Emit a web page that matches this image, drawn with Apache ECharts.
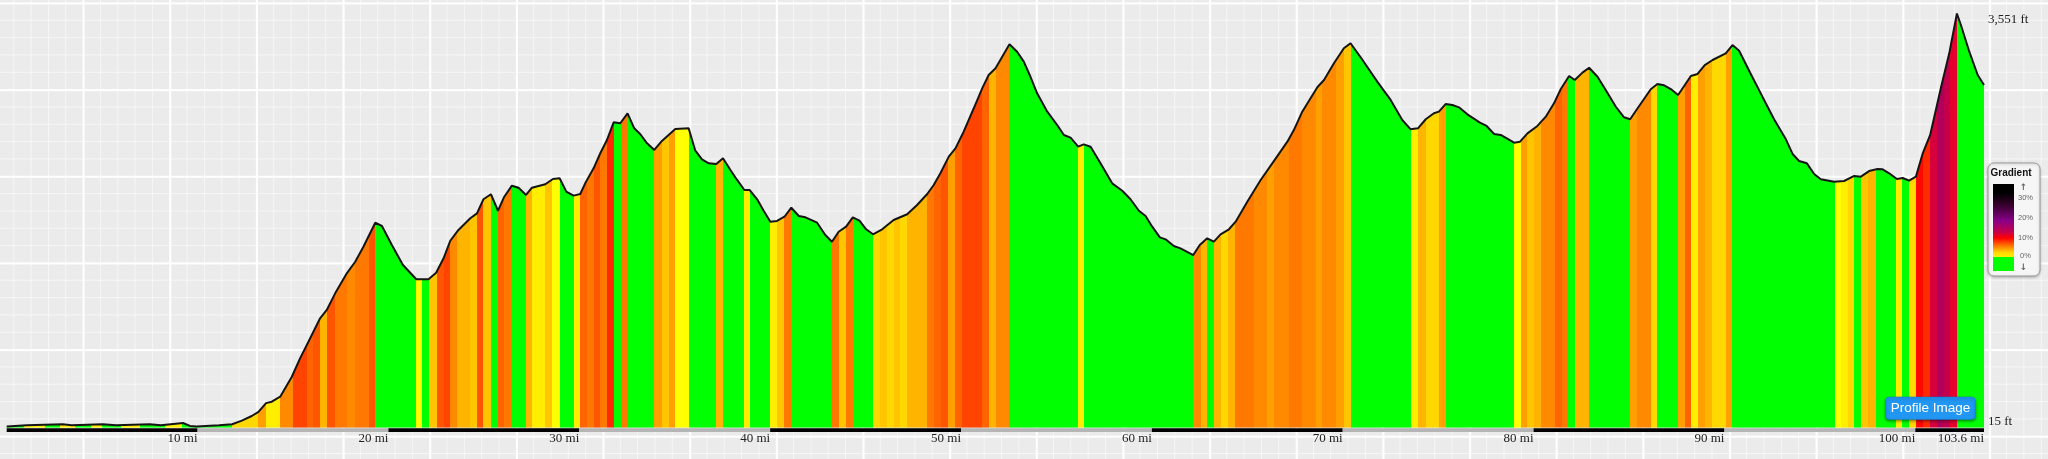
<!DOCTYPE html>
<html><head><meta charset="utf-8">
<script src="https://cdn.jsdelivr.net/npm/echarts@6/dist/echarts.min.js"></script>
<style>
html,body{margin:0;padding:0;width:2048px;height:459px;overflow:hidden;}
body{background-color:#ebebeb;
background-image:
 linear-gradient(to right, rgba(255,255,255,0.95) 2px, transparent 2px),
 linear-gradient(to bottom, rgba(255,255,255,0.95) 2px, transparent 2px),
 linear-gradient(to right, rgba(255,255,255,0.55) 1px, transparent 1px),
 linear-gradient(to bottom, rgba(255,255,255,0.55) 1px, transparent 1px);
background-size:86.667px 86.667px,86.667px 86.667px,17.333px 17.333px,17.333px 17.333px;
background-position:-4px 2.5px;}
#chart{width:2048px;height:459px;}
</style></head>
<body><div id="chart"></div>
<script>
// distance along route (mi)
const dist = [0,1.05,2.93,3.40,5.03,5.73,7.49,8.08,9.24,9.60,
9.94,11.12,11.81,12.32,12.84,13.19,13.59,13.89,14.33,14.94,
15.37,15.81,16.42,16.77,17.21,17.82,18.26,18.69,19.31,19.66,
20.18,20.76,21.46,22.10,22.50,22.89,23.24,23.67,24.29,24.64,
24.98,25.37,25.74,26.07,26.47,26.82,27.21,27.52,28.22,28.62,
28.97,29.32,29.70,30.05,30.31,30.75,31.10,31.45,31.80,32.15,
32.53,32.88,33.20,33.55,33.93,34.33,35.03,35.73,36.08,36.43,
36.78,37.18,37.53,37.92,38.27,38.65,38.93,39.32,39.66,40.01,
40.36,40.75,41.11,41.50,41.85,42.46,42.89,43.24,43.59,43.98,
44.33,44.68,45.03,45.39,45.87,46.47,47.18,47.70,48.23,48.57,
48.92,49.36,49.71,50.14,50.67,51.11,51.45,51.81,52.54,52.94,
53.29,53.64,53.99,54.52,55.04,55.39,55.74,56.14,56.43,56.79,
57.31,57.92,58.45,58.88,59.32,59.67,60.02,60.42,60.72,61.15,
61.50,62.17,62.51,62.90,63.25,63.60,64.04,64.39,65.00,65.70,
66.31,67.10,67.44,67.88,68.67,69.02,69.54,70.06,70.41,70.94,
71.81,72.51,73.12,73.56,73.94,74.35,74.78,75.04,75.39,75.75,
76.09,76.53,77.19,77.54,77.93,78.28,78.98,79.29,79.68,80.20,
80.64,81.07,81.42,81.86,82.16,82.56,82.91,83.35,83.78,84.31,
84.74,85.06,85.45,86.14,86.49,86.84,87.19,87.57,87.89,88.24,
88.59,88.97,89.38,90.07,90.42,90.77,91.38,91.99,92.60,93.22,
93.57,93.91,94.32,94.70,95.05,95.75,96.27,96.80,97.15,97.58,
98.02,98.29,98.63,99.04,99.34,99.68,100.03,100.38,100.78,101.34,
101.78,102.18,102.39,102.83,103.27,103.60];
// elevation (ft)
const elev = [25,35,45,35,45,35,45,35,55,30,
25,35,45,75,115,150,225,237,280,450,
607,749,949,1020,1162,1333,1432,1560,1765,1737,
1575,1404,1282,1282,1338,1461,1611,1703,1803,1845,
1965,2008,1867,1987,2081,2064,2002,2064,2093,2138,
2144,2030,1996,2010,2101,2229,2358,2471,2622,2614,
2699,2571,2520,2443,2386,2463,2565,2571,2380,2306,
2272,2266,2315,2215,2130,2044,2044,1965,1867,1774,
1780,1816,1893,1822,1811,1765,1660,1603,1688,1731,
1811,1782,1709,1666,1709,1788,1837,1916,2010,2087,
2187,2329,2400,2542,2742,2912,3026,3083,3288,3225,
3140,3011,2870,2713,2599,2514,2491,2414,2434,2414,
2272,2101,2038,1965,1867,1822,1731,1640,1623,1566,
1546,1489,1575,1632,1603,1666,1709,1774,1944,2130,
2272,2457,2556,2713,2921,2983,3126,3254,3297,3177,
2969,2813,2642,2562,2571,2648,2699,2713,2778,2770,
2750,2690,2619,2591,2522,2514,2448,2457,2528,2591,
2670,2784,2904,3017,2983,3046,3088,3011,2898,2755,
2665,2648,2742,2904,2949,2938,2906,2855,2932,3017,
3035,3111,3154,3211,3282,3233,3035,2841,2648,2477,
2352,2292,2272,2181,2136,2115,2121,2164,2158,2206,
2224,2221,2187,2138,2147,2124,2158,2352,2514,2915,
3211,3551,3453,3225,3026,2941];
// gradient bands: end mile of each band and its grade (%), -1 = downhill
const bandEnd = [0.9,2.0,2.8,3.6,4.4,5.0,6.0,7.0,8.3,9.2,10.4,11.81,
13.19,13.59,14.33,15.01,15.73,16.07,16.42,16.77,17.21,17.82,18.26,18.96,19.31,
21.46,21.75,22.15,22.54,22.89,23.24,23.59,24.29,24.64,24.98,25.37,25.74,26.07,26.47,
27.21,27.52,28.22,28.57,28.97,29.70,30.05,30.40,30.75,31.10,31.45,31.80,32.19,32.53,
33.93,34.33,34.68,35.03,35.73,37.18,37.53,38.62,38.93,40.01,40.36,40.75,41.11,
43.24,43.59,43.98,44.33,45.37,45.77,46.13,46.47,46.83,47.18,48.23,48.61,48.96,49.31,
49.71,50.06,51.11,51.45,51.81,52.54,56.14,56.43,62.17,62.56,62.90,63.25,63.60,63.98,
64.34,65.34,66.05,66.40,67.18,67.88,68.58,68.93,69.63,70.06,70.41,73.59,73.94,74.35,
75.04,75.39,78.98,79.33,79.68,80.03,80.41,81.11,81.48,81.83,82.16,82.91,85.06,85.41,
86.14,86.49,87.57,87.92,88.24,88.59,88.97,89.33,90.07,90.42,95.78,96.10,96.45,96.80,
97.18,97.53,97.93,98.98,99.28,99.68,100.03,100.40,100.77,101.14,101.49,101.84,102.19,103.6];
const bandGrade = [-1,1,-1,1,-1,1,-1,1,-1,1,-1,-1,
2,5,1,6,10,8,9,4,9,7,6,7,9,
-1,0,-1,3,9,10,6,4,3,9,3,-1,8,7,
-1,4,1,3,0,-1,1,8,7,9,7,11,-1,7,
-1,5,3,5,0,-1,4,-1,1,-1,1,3,7,
-1,7,3,7,-1,2,3,2,3,2,4,7,8,9,
5,8,10,8,4,6,-1,1,-1,6,4,-1,4,2,
4,7,6,5,6,7,6,5,6,5,3,-1,1,4,
2,5,-1,0,5,3,4,6,8,7,-1,4,-1,5,
6,2,-1,5,8,1,5,4,2,5,-1,0,1,2,
-1,3,4,-1,1,-1,2,12,11,14,16,15,13,-1];
// mile markers along the bottom bar
const mileTicks = [0,10,20,30,40,50,60,70,80,90,100,103.6];
const elevMin = 15, elevMax = 3551;

const palette = {'-1':'#00ff00',0:'#ffff00',1:'#ffee00',2:'#ffd800',3:'#ffc600',4:'#ffb400',
 5:'#ff9f00',6:'#ff8a00',7:'#ff7800',8:'#ff6400',9:'#ff5400',10:'#ff4400',11:'#ff2a00',
 12:'#ff0800',13:'#e6002e',14:'#d6003c',15:'#c4004c',16:'#b0005c'};
function gradeColor(g){ return palette[g < 0 ? '-1' : Math.min(16, Math.round(g))]; }

const profile = dist.map((d,i)=>[d, elev[i]]);
let prev = 0;
const pieces = bandEnd.map((e,i)=>{
  const p = {gte: prev, lt: e, color: gradeColor(bandGrade[i])};
  prev = e; return p;
});
pieces[pieces.length-1] = {gte: pieces[pieces.length-1].gte, lte: bandEnd[bandEnd.length-1], color: pieces[pieces.length-1].color};
const barSegs = [];
for (let i=0;i<mileTicks.length-1;i++) barSegs.push([mileTicks[i], mileTicks[i+1], elevMin, i%2]);

const chart = echarts.init(document.getElementById('chart'));
const serif = '"Liberation Serif","Times New Roman",serif';
const sans = '"Liberation Sans",Arial,Helvetica,sans-serif';
chart.setOption({
  animation:false,
  backgroundColor:'transparent',
  grid:{left:6.7, right:64, top:13.5, bottom:31.3, containLabel:false},
  xAxis:{type:'value', min:0, max:103.6, interval:10,
    axisLine:{show:false}, axisTick:{show:false}, splitLine:{show:false},
    axisLabel:{show:true, showMaxLabel:true, showMinLabel:true, align:'right', margin:4,
      fontFamily:serif, fontSize:13, color:'#222',
      formatter:v=> v===0 ? '' : (Math.round(v*10)/10)+' mi'}},
  yAxis:{type:'value', position:'right', min:elevMin, max:elevMax, interval:elevMax-elevMin,
    axisLine:{show:false}, axisTick:{show:false}, splitLine:{show:false},
    axisLabel:{margin:4, fontFamily:serif, fontSize:13, color:'#222',
      verticalAlignMinLabel:'bottom', verticalAlignMaxLabel:'top',
      formatter:v=> Math.round(v).toString().replace(/\B(?=(\d{3})+(?!\d))/g, ',')+' ft'}},
  visualMap:{type:'piecewise', show:false, dimension:0, seriesIndex:0, pieces:pieces,
    outOfRange:{color:'#00ff00'}},
  series:[
    {type:'line', data:profile, showSymbol:false, silent:true, z:2,
     lineStyle:{width:0}, areaStyle:{opacity:1}},
    {type:'line', data:profile, showSymbol:false, silent:true, z:3,
     lineStyle:{color:'#151515', width:2}, itemStyle:{color:'#151515'}},
    {type:'custom', data:barSegs, silent:true, z:4, encode:{x:[0,1], y:2},
     renderItem:function(params, api){
       const a = api.coord([api.value(0), api.value(2)]);
       const b = api.coord([api.value(1), api.value(2)]);
       return {type:'rect', shape:{x:a[0], y:a[1]+0.6, width:b[0]-a[0], height:3.6},
         style:{fill: api.value(3) ? '#b5b5b5' : '#000'}};
     }}
  ],
  graphic:[
    {type:'rect', z:100, shape:{x:1988, y:163, width:52, height:113, r:6},
     style:{fill:'#f6f6f6', stroke:'#9a9a9a', lineWidth:1, shadowBlur:3, shadowColor:'rgba(0,0,0,0.25)', shadowOffsetY:1}},
    {type:'text', z:101, x:1990.5, y:173.5, style:{text:'Gradient', font:'bold 10px '+sans, fill:'#111', verticalAlign:'middle'}},
    {type:'rect', z:101, shape:{x:1993, y:184, width:21, height:73},
     style:{fill:new echarts.graphic.LinearGradient(0,0,0,1,[
       {offset:0,color:'#000000'},{offset:0.12,color:'#000000'},{offset:0.3,color:'#3a0030'},
       {offset:0.5,color:'#880088'},{offset:0.66,color:'#c8004a'},{offset:0.74,color:'#ff0000'},
       {offset:0.84,color:'#ff7000'},{offset:0.94,color:'#ffd800'},{offset:1,color:'#ffee00'}])}},
    {type:'rect', z:101, shape:{x:1993, y:257, width:21, height:14}, style:{fill:'#00ff00'}},
    {type:'text', z:101, x:2025.5, y:198, style:{text:'30%', font:'7.5px '+sans, fill:'#666', align:'center', verticalAlign:'middle'}},
    {type:'text', z:101, x:2025.5, y:218, style:{text:'20%', font:'7.5px '+sans, fill:'#666', align:'center', verticalAlign:'middle'}},
    {type:'text', z:101, x:2025.5, y:237.5, style:{text:'10%', font:'7.5px '+sans, fill:'#666', align:'center', verticalAlign:'middle'}},
    {type:'text', z:101, x:2025.5, y:256, style:{text:'0%', font:'7.5px '+sans, fill:'#666', align:'center', verticalAlign:'middle'}},
    {type:'text', z:101, x:2023.5, y:188, style:{text:'↑', font:'bold 9px "DejaVu Sans",sans-serif', fill:'#666', align:'center', verticalAlign:'middle'}},
    {type:'text', z:101, x:2023.5, y:268, style:{text:'↓', font:'bold 9px "DejaVu Sans",sans-serif', fill:'#666', align:'center', verticalAlign:'middle'}},
    {type:'rect', z:100, shape:{x:1885.5, y:397, width:90, height:22.5, r:4},
     style:{fill:'#2196f3', stroke:'#1b7fd0', lineWidth:0.5, shadowBlur:3, shadowColor:'rgba(0,0,0,0.45)', shadowOffsetY:1.5}},
    {type:'text', z:101, x:1930.5, y:408.5, style:{text:'Profile Image', font:'13.5px '+sans, fill:'#ffffff', align:'center', verticalAlign:'middle'}}
  ]
});
</script></body></html>
